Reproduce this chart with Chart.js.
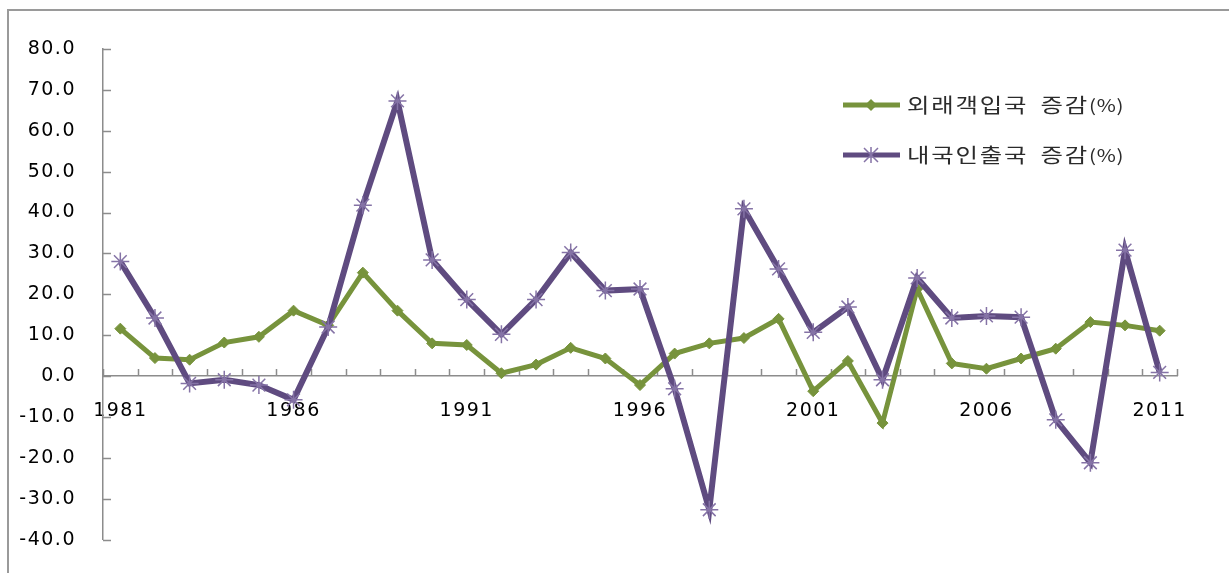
<!DOCTYPE html>
<html>
<head>
<meta charset="utf-8">
<script src="https://cdn.jsdelivr.net/npm/chart.js@4.4.1/dist/chart.umd.min.js"></script>
<style>
  html, body { margin: 0; padding: 0; background: #fff; overflow: hidden; }
  #wrap { position: relative; width: 1229px; height: 573px; overflow: hidden; }
  #frame { position: absolute; left: 7px; top: 9px; right: 0; bottom: -5px;
           border-left: 2px solid #9a9a9a; border-top: 2px solid #9a9a9a; }
  canvas { position: absolute; left: 0; top: 0; }
</style>
</head>
<body>
<div id="wrap">
  <div id="frame"></div>
  <canvas id="myChart" width="1229" height="578"></canvas>
</div>
<script>
// years on the category axis
const years = [1981, 1982, 1983, 1984, 1985, 1986, 1987, 1988, 1989, 1990,
  1991, 1992, 1993, 1994, 1995, 1996, 1997, 1998, 1999, 2000,
  2001, 2002, 2003, 2004, 2005, 2006, 2007, 2008, 2009, 2010, 2011];

// 외래객입국 증감(%)
const inbound = [11.6, 4.4, 4.0, 8.2, 9.6, 16.0, 12.4, 25.3, 16.0, 8.0,
  7.6, 0.7, 2.8, 6.9, 4.3, -2.2, 5.5, 8.0, 9.3, 14.0,
  -3.7, 3.7, -11.5, 21.3, 3.1, 1.8, 4.3, 6.7, 13.2, 12.4, 11.1];

// 내국인출국 증감(%)
const outbound = [28.0, 14.2, -1.8, -0.9, -2.2, -5.8, 12.0, 41.8, 67.3, 28.4,
  18.7, 10.2, 18.7, 30.2, 20.9, 21.3, -3.1, -32.7, 40.9, 26.2,
  10.7, 16.9, -0.9, 24.0, 14.2, 14.7, 14.4, -10.7, -21.2, 30.8, 0.9];

const seriesNames = ['외래객입국 증감', '내국인출국 증감'];
const yTicks = [-40, -30, -20, -10, 0, 10, 20, 30, 40, 50, 60, 70, 80];

const green = '#77933c';
const purple = '#5f4b80';
const purpleMark = '#8573a6';

// Excel-like tick marks: pointing into the plot
const tickMarks = {
  id: 'tickMarks',
  beforeDatasetsDraw(chart) {
    const ctx = chart.ctx;
    const x = chart.scales.x, y = chart.scales.y;
    const y0 = y.getPixelForValue(0);
    const step = (x.right - x.left) / years.length;
    ctx.save();
    ctx.strokeStyle = '#8c8c8c';
    ctx.lineWidth = 1.5;
    ctx.beginPath();
    for (let i = 0; i <= years.length; i++) {
      const px = Math.round(x.left + i * step) + 0.5;
      ctx.moveTo(px, y0);
      ctx.lineTo(px, y0 - 7);
    }
    yTicks.forEach(v => {
      const py = Math.round(y.getPixelForValue(v)) + 0.5;
      ctx.moveTo(y.right, py);
      ctx.lineTo(y.right + 8, py);
    });
    ctx.stroke();
    ctx.restore();
  }
};

// slightly wider text like the stretched original
const spacing = {
  id: 'spacing',
  beforeDraw(chart) { chart.ctx.letterSpacing = '1.5px'; }
};

// legend drawn inside the plot, top right
const insideLegend = {
  id: 'insideLegend',
  afterDraw(chart) {
    const ctx = chart.ctx;
    const rows = [
      { name: seriesNames[0], color: green, y: 105, mark: 'diamond' },
      { name: seriesNames[1], color: purple, y: 155, mark: 'star' }
    ];
    ctx.save();
    rows.forEach(r => {
      ctx.strokeStyle = r.color;
      ctx.lineWidth = 5;
      ctx.beginPath();
      ctx.moveTo(843, r.y);
      ctx.lineTo(900, r.y);
      ctx.stroke();
      const cx = 871;
      if (r.mark === 'diamond') {
        ctx.fillStyle = r.color;
        ctx.beginPath();
        ctx.moveTo(cx, r.y - 6); ctx.lineTo(cx + 6, r.y);
        ctx.lineTo(cx, r.y + 6); ctx.lineTo(cx - 6, r.y);
        ctx.closePath();
        ctx.fill();
      } else {
        ctx.strokeStyle = purpleMark;
        ctx.lineWidth = 1.5;
        ctx.beginPath();
        ctx.moveTo(cx - 7, r.y - 7); ctx.lineTo(cx + 7, r.y + 7);
        ctx.moveTo(cx - 7, r.y + 7); ctx.lineTo(cx + 7, r.y - 7);
        ctx.moveTo(cx, r.y - 8); ctx.lineTo(cx, r.y + 8);
        ctx.stroke();
      }
      // stretched text, as in the original picture
      ctx.save();
      ctx.translate(907, r.y);
      ctx.scale(1.22, 1);
      ctx.fillStyle = '#2b2b2b';
      ctx.textBaseline = 'middle';
      ctx.textAlign = 'left';
      ctx.font = '20px "Noto Sans CJK KR"';
      ctx.letterSpacing = '1.5px';
      ctx.wordSpacing = '4px';
      ctx.fillText(r.name, 0, 0);
      const w = ctx.measureText(r.name).width;
      ctx.font = '17px "Noto Sans CJK KR"';
      ctx.letterSpacing = '0.5px';
      ctx.fillText('(%)', w, 1);
      ctx.restore();
    });
    ctx.restore();
  }
};

document.addEventListener('DOMContentLoaded', function () {
  const ctx = document.getElementById('myChart').getContext('2d');
  new Chart(ctx, {
    type: 'line',
    data: {
      labels: years,
      datasets: [{
        label: seriesNames[0] + '(%)',
        data: inbound,
        borderColor: green,
        backgroundColor: green,
        borderWidth: 5,
        pointStyle: 'rectRot',
        pointRadius: 5.5,
        pointBorderWidth: 1,
        tension: 0,
        order: 1
      }, {
        label: seriesNames[1] + '(%)',
        data: outbound,
        borderColor: purple,
        backgroundColor: purpleMark,
        borderWidth: 6,
        pointStyle: 'star',
        pointRadius: 9,
        pointBorderColor: purpleMark,
        pointBorderWidth: 1.5,
        tension: 0,
        order: 0
      }]
    },
    options: {
      responsive: false,
      animation: false,
      layout: { padding: { top: 49, right: 52, bottom: 20, left: 0 } },
      plugins: {
        legend: { display: false },
        tooltip: { enabled: false }
      },
      scales: {
        x: {
          type: 'category',
          offset: true,
          position: { y: 0 },
          grid: { display: true, drawOnChartArea: false, drawTicks: false, offset: true },
          border: { display: true, color: '#8c8c8c', width: 1.5 },
          ticks: {
            autoSkip: false,
            maxRotation: 0,
            padding: 24,
            color: '#000',
            font: { family: '"DejaVu Sans"', size: 19 },
            callback: function (val, i) { return i % 5 === 0 ? years[i] : ''; }
          }
        },
        y: {
          min: -40,
          max: 80,
          afterFit: function (scale) { scale.width = 103; },
          grid: { display: true, drawOnChartArea: false, drawTicks: false },
          border: { display: true, color: '#8c8c8c', width: 1.5 },
          ticks: {
            stepSize: 10,
            padding: 27,
            color: '#000',
            font: { family: '"DejaVu Sans"', size: 19 },
            callback: function (v) { return Number(v).toFixed(1); }
          }
        }
      }
    },
    plugins: [tickMarks, spacing, insideLegend]
  });
});
</script>
</body>
</html>
